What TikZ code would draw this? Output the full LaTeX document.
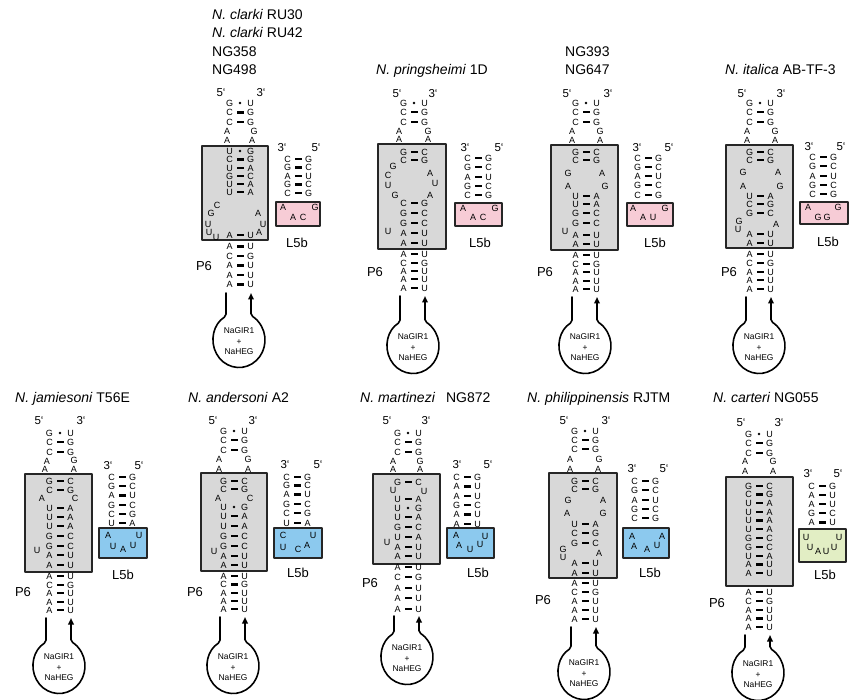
\documentclass[tikz,border=0pt]{standalone}
\usepackage{fontspec}
\setmainfont{Liberation Sans}
\usetikzlibrary{arrows.meta}

\definecolor{helixgrey}{RGB}{216,216,216}
\definecolor{loopPink}{RGB}{247,204,214}
\definecolor{loopBlue}{RGB}{140,201,238}
\definecolor{loopGreen}{RGB}{226,238,196}

% one nucleotide, a Watson-Crick pair and a G.U pair (x of the pair centre is optional)
\newcounter{nuc}
\newcommand{\nuc}[3]{\stepcounter{nuc}\node[nt] (nuc\arabic{nuc}) at (#1,#2) {#3};}
\newcommand{\wc}[4][0]{\nuc{#1-10.5}{#2}{#3}\fill (#1-3.5,#2-1.3) rectangle (#1+3.5,#2+1.3);\nuc{#1+10.5}{#2}{#4}}
\newcommand{\gu}[4][0]{\nuc{#1-10.5}{#2}{#3}\fill (#1,#2) circle (1.4);\nuc{#1+10.5}{#2}{#4}}
% the P6 loop carrying NaGIR1 + NaHEG (stem start, centre y)
\newcommand{\ploop}[2]{%
	\draw[strand] (-14,#1) -- (-14,#2-23.8)
	arc[start angle=-120, end angle=-422.5, x radius=26, y radius=27.5] -- (11,#1);
	\stepcounter{nuc}\node[loopt] (gir\arabic{nuc}) at (-1,#2+1.5) {NaGIR1\\+\\NaHEG};}

\begin{document}
\begin{tikzpicture}[
	x=1pt, y=-1pt,
	nt/.style={font=\fontsize{9}{9}\selectfont, inner sep=0pt},
	prime/.style={font=\fontsize{11.5}{11.5}\selectfont, inner sep=0pt},
	lbl/.style={font=\fontsize{13}{13}\selectfont, inner sep=0pt},
	ttl/.style={font=\fontsize{14}{14}\selectfont, inner sep=0pt, anchor=base west},
	loopt/.style={font=\fontsize{8.4}{10.5}\selectfont, align=center, inner sep=0pt},
	hbox/.style={draw=black!85, line width=1.4pt},
	strand/.style={line width=1.6pt, rounded corners=2pt, -{Triangle[length=6.5pt,width=5.5pt]}},
	line cap=round,
	line join=round
	]
	
	\useasboundingbox (0,0) rectangle (851,700);
	
	% Top row, first: N. clarki
	\begin{scope}[shift={(240,0)}]
		\node[ttl] (t1a) at (-28,20) {\textit{N. clarki} RU30};
		\node[ttl] (t1b) at (-28,38) {\textit{N. clarki} RU42};
		\node[ttl] (t1c) at (-28,57) {NG358};
		\node[ttl] (t1d) at (-28,75) {NG498};
		\draw[hbox, fill=helixgrey] (-38,146) rectangle (28,240);
		\draw[hbox, fill=loopPink] (36,202) rectangle (80,226);
		\node[prime] (t1p5) at (-19,93) {5‘};
		\node[prime] (t1p3) at (21,93) {3‘};
		\gu{103}{G}{U} \wc{112.5}{C}{G} \wc{122}{C}{G}
		\nuc{-13}{131}{A} \nuc{14}{131}{G} \nuc{-13}{140}{A} \nuc{12}{140}{A}
		\gu{151}{U}{G} \wc{159.5}{C}{G} \wc{168}{U}{A} \wc{176}{G}{C} \wc{184}{U}{A} \wc{192}{U}{A}
		\nuc{-23}{205}{C} \nuc{-29}{213}{G} \nuc{-32}{224}{U} \nuc{-31}{232}{U} \nuc{-24}{237}{U}
		\nuc{18}{213}{A} \nuc{23}{224}{U} \nuc{19}{232}{A}
		\wc{235}{A}{U}
		\wc{246.5}{A}{U} \wc{256}{C}{G} \wc{265.5}{A}{U} \wc{275}{A}{U} \wc{284.5}{A}{U}
		\node[lbl] (t1p6) at (-36,266) {P6};
		\node[prime] (t1q3) at (42,147.5) {3‘};
		\node[prime] (t1q5) at (76,147.5) {5‘};
		\wc[58]{159}{C}{G} \wc[58]{167.5}{G}{C} \wc[58]{176}{A}{U} \wc[58]{184.5}{G}{C} \wc[58]{193}{C}{G}
		\nuc{43}{207}{A} \nuc{75}{207}{G} \nuc{53}{217}{A} \nuc{63}{217}{C}
		\node[lbl] (t1l5) at (57,243) {L5b};
		\ploop{293}{340}
	\end{scope}
	
	% Top row, second: N. pringsheimi
	\begin{scope}[shift={(414,0)}]
		\node[ttl] (t2a) at (-38,75) {\textit{N. pringsheimi} 1D};
		\draw[hbox, fill=helixgrey] (-36,144) rectangle (32,249);
		\draw[hbox, fill=loopPink] (41,203) rectangle (88,226);
		\node[prime] (t2p5) at (-17,94) {5‘};
		\node[prime] (t2p3) at (19,94) {3‘};
		\gu{103}{G}{U} \wc{112}{C}{G} \wc{122}{C}{G}
		\nuc{-15}{131}{A} \nuc{14}{131}{G} \nuc{-15}{139}{A} \nuc{14}{139}{A}
		\wc{152}{G}{C} \wc{160}{C}{G}
		\nuc{-21}{166}{G} \nuc{-26}{175}{C} \nuc{-26}{185}{U} \nuc{-19}{195}{G}
		\nuc{16}{173}{A} \nuc{21}{183}{U} \nuc{16}{195}{A}
		\wc{203}{C}{G} \wc{213}{G}{C} \wc{223}{G}{C}
		\nuc{-26}{231}{U}
		\wc{233}{A}{U} \wc{243}{A}{U}
		\wc{254}{A}{U} \wc{263}{C}{G} \wc{271}{A}{U} \wc{279}{A}{U} \wc{288}{A}{U}
		\node[lbl] (t2p6) at (-39,272) {P6};
		\node[prime] (t2q3) at (51,147.5) {3‘};
		\node[prime] (t2q5) at (85,147.5) {5‘};
		\wc[64]{158}{C}{G} \wc[64]{167}{G}{C} \wc[64]{177}{A}{U} \wc[64]{186}{G}{C} \wc[64]{195}{C}{G}
		\nuc{49}{208}{A} \nuc{81}{208}{G} \nuc{59}{217}{A} \nuc{69}{217}{C}
		\node[lbl] (t2l5) at (66,243) {L5b};
		\ploop{296}{346}
	\end{scope}
	
	% Top row, third: NG393, NG647
	\begin{scope}[shift={(586,0)}]
		\node[ttl] (t3a) at (-21,57) {NG393};
		\node[ttl] (t3b) at (-21,75) {NG647};
		\draw[hbox, fill=helixgrey] (-35,145) rectangle (32,250);
		\draw[hbox, fill=loopPink] (41,203) rectangle (87,226);
		\node[prime] (t3p5) at (-19,93.5) {5‘};
		\node[prime] (t3p3) at (22,93.5) {3‘};
		\gu{103}{G}{U} \wc{112}{C}{G} \wc{122}{C}{G}
		\nuc{-14}{131}{A} \nuc{14}{131}{G} \nuc{-14}{140}{A} \nuc{14}{140}{A}
		\wc{152}{G}{C} \wc{160}{C}{G}
		\nuc{-18}{173}{G} \nuc{16}{173}{A} \nuc{-18}{186}{A} \nuc{19}{186}{G}
		\wc{196}{U}{A} \wc{204}{U}{A} \wc{213}{G}{C} \wc{223}{G}{C}
		\nuc{-21}{231}{U}
		\wc{235}{A}{U} \wc{244}{A}{U}
		\wc{255}{A}{U} \wc{264}{C}{G} \wc{272}{A}{U} \wc{281}{A}{U} \wc{289}{A}{U}
		\node[lbl] (t3p6) at (-41,272) {P6};
		\node[prime] (t3q3) at (51,147.5) {3‘};
		\node[prime] (t3q5) at (83,147.5) {5‘};
		\wc[62]{158}{C}{G} \wc[62]{167}{G}{C} \wc[62]{176}{A}{U} \wc[62]{185}{G}{C} \wc[62]{195}{C}{G}
		\nuc{47}{208}{A} \nuc{79}{208}{G} \nuc{57}{217}{A} \nuc{67}{217}{U}
		\node[lbl] (t3l5) at (69,243) {L5b};
		\ploop{297}{346}
	\end{scope}
	
	% Top row, fourth: N. italica
	\begin{scope}[shift={(760,0)}]
		\node[ttl] (t4a) at (-35,75) {\textit{N. italica} AB-TF-3};
		\draw[hbox, fill=helixgrey] (-34,145) rectangle (33,248);
		\draw[hbox, fill=loopPink] (40,202) rectangle (88,224);
		\node[prime] (t4p5) at (-18,93.5) {5‘};
		\node[prime] (t4p3) at (21,93.5) {3‘};
		\gu{103}{G}{U} \wc{112}{C}{G} \wc{122}{C}{G}
		\nuc{-13}{131}{A} \nuc{15}{131}{G} \nuc{-13}{140}{A} \nuc{15}{140}{A}
		\wc{152}{G}{C} \wc{160}{C}{G}
		\nuc{-17}{172}{G} \nuc{18}{172}{A} \nuc{-17}{186}{A} \nuc{20}{186}{G}
		\wc{196}{U}{A} \wc{204}{C}{G} \wc{213}{G}{C}
		\nuc{-21}{221}{G} \nuc{16}{224}{A} \nuc{-22}{229}{U}
		\wc{234}{A}{U} \wc{243}{A}{U}
		\wc{254}{A}{U} \wc{263}{C}{G} \wc{272}{A}{U} \wc{280}{A}{U} \wc{289}{A}{U}
		\node[lbl] (t4p6) at (-31,272) {P6};
		\node[prime] (t4q3) at (49,146.5) {3‘};
		\node[prime] (t4q5) at (81,146.5) {5‘};
		\wc[63]{157}{C}{G} \wc[63]{166}{G}{C} \wc[63]{176}{A}{U} \wc[63]{185}{G}{C} \wc[63]{194}{C}{G}
		\nuc{48}{207}{A} \nuc{78}{207}{G} \nuc{58}{217}{G} \nuc{67}{217}{G}
		\node[lbl] (t4l5) at (68,242) {L5b};
		\ploop{297}{346}
	\end{scope}
	
	% Bottom row, first: N. jamiesoni
	\begin{scope}[shift={(60,0)}]
		\node[ttl] (b1a) at (-45,402) {\textit{N. jamiesoni} T56E};
		\draw[hbox, fill=helixgrey] (-35,474) rectangle (32,572);
		\draw[hbox, fill=loopBlue] (39,528) rectangle (87,558);
		\node[prime] (b1p5) at (-21,421) {5‘};
		\node[prime] (b1p3) at (21,421) {3‘};
		\gu{433}{G}{U} \wc{442}{C}{G} \wc{452}{C}{G}
		\nuc{-13}{461}{A} \nuc{14}{460}{G} \nuc{-15}{469}{A} \nuc{14}{469}{A}
		\wc{481}{G}{C} \wc{490}{C}{G}
		\nuc{-18}{498}{A} \nuc{15}{498}{C}
		\wc{508}{U}{A} \wc{517}{U}{A} \wc{526}{U}{A} \wc{536}{G}{C} \wc{546}{G}{C}
		\nuc{-23}{550}{U}
		\wc{555}{A}{U} \wc{565}{A}{U}
		\wc{576}{A}{U} \wc{585}{C}{G} \wc{593}{A}{U} \wc{602}{A}{U} \wc{610}{A}{U}
		\node[lbl] (b1p6) at (-37,592) {P6};
		\node[prime] (b1q3) at (48,466) {3‘};
		\node[prime] (b1q5) at (79,466) {5‘};
		\wc[62]{477}{C}{G} \wc[62]{486}{G}{C} \wc[62]{495.5}{A}{U} \wc[62]{505}{G}{C} \wc[62]{514}{C}{G} \wc[62]{523}{U}{A}
		\nuc{48}{535}{A} \nuc{79}{535}{U} \nuc{53}{546}{U} \nuc{63}{549}{A} \nuc{73}{545}{U}
		\node[lbl] (b1l5) at (63,575) {L5b};
		\ploop{618}{666}
	\end{scope}
	
	% Bottom row, second: N. andersoni
	\begin{scope}[shift={(234,0)}]
		\node[ttl] (b2a) at (-46,402) {\textit{N. andersoni} A2};
		\draw[hbox, fill=helixgrey] (-33,473) rectangle (33,571);
		\draw[hbox, fill=loopBlue] (40,528) rectangle (88,558);
		\node[prime] (b2p5) at (-21,421) {5‘};
		\node[prime] (b2p3) at (19,421) {3‘};
		\gu{431}{G}{U} \wc{440}{C}{G} \wc{450}{C}{G}
		\nuc{-15}{459}{A} \nuc{14}{459}{G} \nuc{-15}{469}{A} \nuc{14}{469}{A}
		\wc{481}{G}{C} \wc{489}{C}{G}
		\nuc{-16}{498}{A} \nuc{16}{498}{C}
		\gu{507}{U}{G} \wc{516}{U}{A} \wc{526}{U}{A} \wc{536}{G}{C} \wc{546}{G}{C}
		\nuc{-20}{551}{U}
		\wc{556}{A}{U} \wc{565}{A}{U}
		\wc{576}{A}{U} \wc{584.5}{C}{G} \wc{593}{A}{U} \wc{601}{A}{U} \wc{609}{A}{U}
		\node[lbl] (b2p6) at (-39,592) {P6};
		\node[prime] (b2q3) at (51,465) {3‘};
		\node[prime] (b2q5) at (84,465) {5‘};
		\wc[63]{477}{C}{G} \wc[63]{485.5}{G}{C} \wc[63]{494.5}{A}{U} \wc[63]{504}{G}{C} \wc[63]{513}{C}{G} \wc[63]{523}{U}{A}
		\nuc{49}{535}{C} \nuc{79}{535}{U} \nuc{49}{547}{U} \nuc{64}{549}{C} \nuc{73}{545}{A}
		\node[lbl] (b2l5) at (64,573) {L5b};
		\ploop{617}{666}
	\end{scope}
	
	% Bottom row, third: N. martinezi
	\begin{scope}[shift={(408,0)}]
		\node[ttl] (b3a) at (-48,402) {\textit{N. martinezi}\hspace{7pt} NG872};
		\draw[hbox, fill=helixgrey] (-35,474) rectangle (32,564);
		\draw[hbox, fill=loopBlue] (39,528) rectangle (86,558);
		\node[prime] (b3p5) at (-21,421) {5‘};
		\node[prime] (b3p3) at (18,421) {3‘};
		\gu{433}{G}{U} \wc{442}{C}{G} \wc{452}{C}{G}
		\nuc{-15}{461}{A} \nuc{12}{461}{G} \nuc{-15}{469}{A} \nuc{12}{469}{A}
		\wc{482}{G}{C}
		\nuc{-15}{490}{U} \nuc{16}{491}{U}
		\wc{499}{U}{A} \gu{508}{U}{G} \wc{517}{U}{A} \wc{527}{G}{C} \wc{537}{U}{A}
		\nuc{-21}{542}{U}
		\wc{547}{A}{U} \wc{556}{A}{U}
		\wc{567}{A}{U} \wc{577}{C}{G} \wc{588}{A}{U} \wc{598}{A}{U} \wc{609}{A}{U}
		\node[lbl] (b3p6) at (-38,583) {P6};
		\node[prime] (b3q3) at (49,465) {3‘};
		\node[prime] (b3q5) at (80,465) {5‘};
		\wc[59]{477}{C}{G} \wc[59]{486.5}{A}{U} \wc[59]{496}{A}{U} \wc[59]{505}{G}{C} \wc[59]{514.5}{A}{U} \wc[59]{524}{A}{U}
		\nuc{48}{535}{A} \nuc{77}{536}{U} \nuc{51}{545}{A} \nuc{62}{549}{U} \nuc{72}{544}{U}
		\node[lbl] (b3l5) at (70,573) {L5b};
		\ploop{616}{657}
	\end{scope}
	
	% Bottom row, fourth: N. philippinensis
	\begin{scope}[shift={(585,0)}]
		\node[ttl] (b4a) at (-58,402) {\textit{N. philippinensis} RJTM};
		\draw[hbox, fill=helixgrey] (-36,473) rectangle (32,578);
		\draw[hbox, fill=loopBlue] (38,528) rectangle (84,558);
		\node[prime] (b4p5) at (-21,421) {5‘};
		\node[prime] (b4p3) at (21,421) {3‘};
		\gu{431}{G}{U} \wc{440}{C}{G} \wc{449}{C}{G}
		\nuc{-15}{459}{A} \nuc{14}{459}{G} \nuc{-15}{469}{A} \nuc{13}{469}{A}
		\wc{481}{G}{C} \wc{489}{C}{G}
		\nuc{-17}{500}{G} \nuc{18}{500}{A} \nuc{-18}{513}{A} \nuc{18}{513}{G}
		\wc{524}{U}{A} \wc{533}{C}{G} \wc{543}{G}{C}
		\nuc{-22}{549}{G} \nuc{14}{553}{A} \nuc{-22}{557}{U}
		\wc{563}{A}{U} \wc{573}{A}{U}
		\wc{583}{A}{U} \wc{592}{C}{G} \wc{601}{A}{U} \wc{610}{A}{U} \wc{619}{A}{U}
		\node[lbl] (b4p6) at (-42,600) {P6};
		\node[prime] (b4q3) at (47,469) {3‘};
		\node[prime] (b4q5) at (79,469) {5‘};
		\wc[60]{481}{C}{G} \wc[60]{490}{G}{C} \wc[60]{500}{A}{U} \wc[60]{509}{G}{C} \wc[60]{518}{C}{G}
		\nuc{47}{536}{A} \nuc{77}{536}{A} \nuc{49}{546}{A} \nuc{62}{549}{A} \nuc{72}{545}{U}
		\node[lbl] (b4l5) at (65,573) {L5b};
		\ploop{627}{672}
	\end{scope}
	
	% Bottom row, fifth: N. carteri
	\begin{scope}[shift={(759,0)}]
		\node[ttl] (b5a) at (-46,402) {\textit{N. carteri} NG055};
		\draw[hbox, fill=helixgrey] (-33,477) rectangle (34,586);
		\draw[hbox, fill=loopGreen] (40,529) rectangle (87,562);
		\node[prime] (b5p5) at (-18,423) {5‘};
		\node[prime] (b5p3) at (20,423) {3‘};
		\gu{434}{G}{U} \wc{443}{C}{G} \wc{453}{C}{G}
		\nuc{-14}{461}{A} \nuc{14}{461}{G} \nuc{-14}{471}{A} \nuc{14}{471}{A}
		\wc{486}{G}{C} \wc{494.5}{C}{G} \wc{503}{U}{A} \wc{512}{U}{A} \wc{520.5}{U}{A} \wc{529}{U}{A}
		\wc{538}{G}{C} \wc{547}{G}{C} \wc{556}{U}{A} \wc{564.5}{A}{U} \wc{573}{A}{U}
		\wc{592}{A}{U} \wc{601}{C}{G} \wc{610}{A}{U} \wc{618.5}{A}{U} \wc{627}{A}{U}
		\node[lbl] (b5p6) at (-42,603) {P6};
		\node[prime] (b5q3) at (49,474) {3‘};
		\node[prime] (b5q5) at (79,474) {5‘};
		\wc[63]{486}{C}{G} \wc[63]{495}{A}{U} \wc[63]{504}{A}{U} \wc[63]{513}{G}{C} \wc[63]{522.5}{A}{U}
		\nuc{47}{537}{U} \nuc{80}{537}{U} \nuc{51}{547}{U} \nuc{59}{551}{A} \nuc{67}{551}{U} \nuc{75}{547}{U}
		\node[lbl] (b5l5) at (66,575) {L5b};
		\ploop{635}{673}
	\end{scope}
	
\end{tikzpicture}
\end{document}
